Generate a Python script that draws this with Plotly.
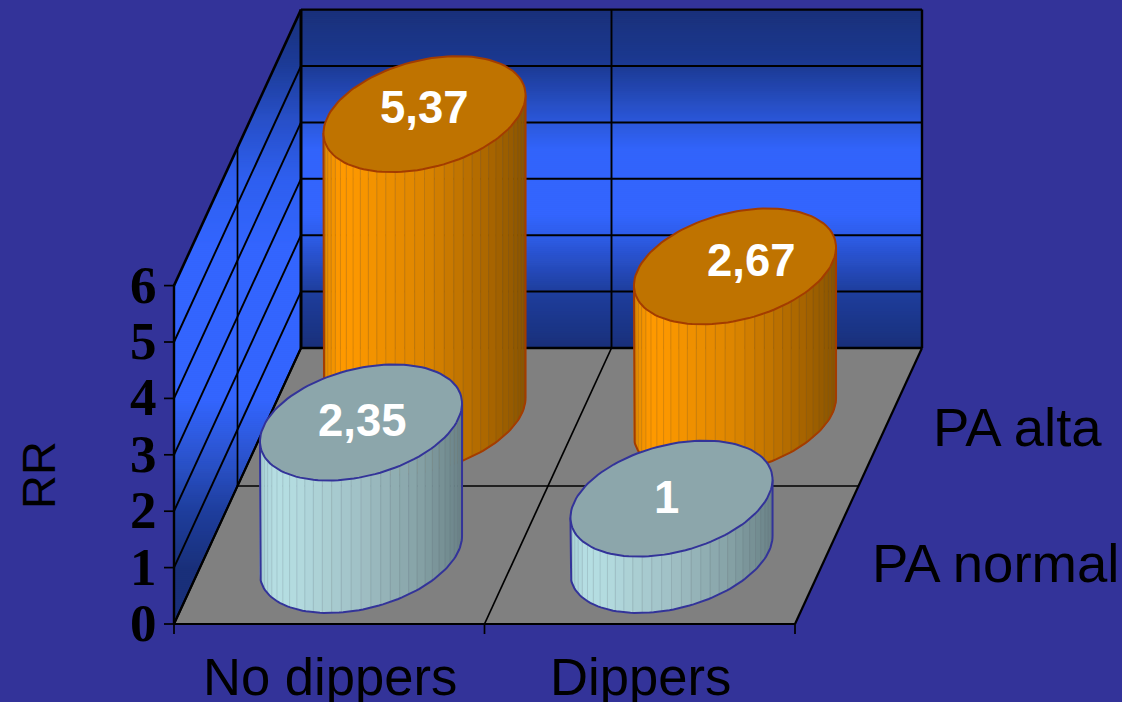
import numpy as np
import plotly.graph_objects as go

# Chart data
categories = ["No dippers", "Dippers"]
series_names = ["PA normal", "PA alta"]
pa_normal = [2.35, 1]
pa_alta = [5.37, 2.67]
value_ticks = [0, 1, 2, 3, 4, 5, 6]
axis_title = "RR"

# Oblique projection of the 3D box onto the page (pixels)
ORIGIN_X, ORIGIN_Y = 174.0, 624.0
WIDTH_X = 621.0
DEPTH_X, DEPTH_Y = 127.0, 276.0
UNIT_Y = 56.4
ZMAX = value_ticks[-1]


def project(u, v, z):
    """u: across categories 0..1, v: depth 0..1, z: value."""
    return (ORIGIN_X + WIDTH_X * u + DEPTH_X * v,
            ORIGIN_Y - DEPTH_Y * v - UNIT_Y * z)


# Cylinder footprint on the page
ELL_A, ELL_B, ELL_C = 95.5, 33.0, 58.0

BACKGROUND = "#333399"
FLOOR = "#808080"

# Vertical wall shading, as (page y, colour)
BACK_STOPS = [(10, "#19307a"), (65, "#1c3a92"), (122, "#2c58da"), (150, "#3265fb"),
              (215, "#3366ff"), (235, "#2f5eea"), (291, "#1f3f9e"), (348, "#19307a")]
SIDE_STOPS = [(10, "#19307a"), (66, "#1d3c98"), (120, "#2850c8"), (180, "#2f60f0"),
              (250, "#3366ff"), (400, "#3366ff"), (455, "#2c55d0"), (510, "#1f3f9e"),
              (570, "#19307a"), (624, "#19307a")]

ORANGE = dict(stops=[(0, "#e08a00"), (0.08, "#ff9900"), (0.16, "#fb9700"), (0.5, "#dc8500"),
                     (0.8, "#ad6800"), (1, "#8a5400")],
              top="#bf7300", edge="#a33c00", facet="rgba(110,80,30,0.28)")
TEAL = dict(stops=[(0, "#a8d0d6"), (0.08, "#b6dfe3"), (0.2, "#b2d9dd"), (0.5, "#a0c0c5"),
                   (0.8, "#84a0a4"), (1, "#6a8287")],
            top="#8ca6ab", edge="#333399", facet="rgba(90,110,120,0.22)")


def hex_rgb(c):
    return np.array([int(c[i:i + 2], 16) for i in (1, 3, 5)], float)


def ramp(stops, pos):
    xs = [s[0] for s in stops]
    cols = np.array([hex_rgb(s[1]) for s in stops])
    rgb = [np.interp(pos, xs, cols[:, k]) for k in range(3)]
    return "rgb(%d,%d,%d)" % tuple(int(round(c)) for c in rgb)


fig = go.Figure()


def poly(xs, ys, fill, line=None, width=0.0):
    fig.add_trace(go.Scatter(
        x=list(xs), y=list(ys), mode="lines", fill="toself", fillcolor=fill,
        line=dict(color=line or fill, width=width), hoverinfo="skip", showlegend=False))


def seg(p, q, width=1.5, color="black"):
    fig.add_trace(go.Scatter(
        x=[p[0], q[0]], y=[p[1], q[1]], mode="lines",
        line=dict(color=color, width=width), hoverinfo="skip", showlegend=False))


def shaded_wall(left, right, stops, top, bottom, step=2.0):
    """Fill a wall with horizontal strips; left/right give its x limits per page y."""
    ys = np.arange(top, bottom + step, step)
    for y0, y1 in zip(ys[:-1], ys[1:]):
        y1 = min(y1, bottom)
        poly([left(y0), right(y0), right(y1), left(y1), left(y0)],
             [y0, y0, y1, y1, y0], ramp(stops, (y0 + y1) / 2), width=0.8)


# Back wall
bl = project(0, 1, 0)
br = project(1, 1, 0)
tl = project(0, 1, ZMAX)
tr = project(1, 1, ZMAX)
shaded_wall(lambda y: bl[0], lambda y: br[0], BACK_STOPS, tl[1], bl[1])

# Side wall
f0 = project(0, 0, 0)
f6 = project(0, 0, ZMAX)
shaded_wall(lambda y: np.interp(y, [tl[1], f6[1]], [tl[0], f6[0]]),
            lambda y: np.interp(y, [bl[1], f0[1]], [bl[0], f0[0]]),
            SIDE_STOPS, tl[1], f0[1])

# Floor
fr = project(1, 0, 0)
poly([f0[0], fr[0], br[0], bl[0], f0[0]], [f0[1], fr[1], br[1], bl[1], f0[1]], FLOOR)

# Gridlines on the walls
for z in value_ticks:
    w = 2.4 if z in (value_ticks[0], value_ticks[-1]) else 2.0
    seg(project(0, 1, z), project(1, 1, z), w)
    seg(project(0, 0, z), project(0, 1, z), 2.6 if z == ZMAX else 1.9)
    seg(project(0, 0, z), (project(0, 0, z)[0] - 10, project(0, 0, z)[1]), 1.7)
seg(project(0.5, 1, 0), project(0.5, 1, ZMAX), 1.9)
seg(project(1, 1, 0), project(1, 1, ZMAX), 2.4)
seg(project(0, 1, 0), project(0, 1, ZMAX), 3.0)
seg(project(0, 0.5, 0), project(0, 0.5, ZMAX), 1.7)
seg(project(0, 0, 0), project(0, 0, ZMAX), 2.4)

# Gridlines on the floor and its outline
seg(project(0, 0.5, 0), project(1, 0.5, 0), 1.7)
seg(project(0.5, 0, 0), project(0.5, 1, 0), 1.7)
seg(project(0, 0, 0), project(1, 0, 0), 2.2)
seg(project(0, 0, 0), project(0, 1, 0), 2.2)
seg(project(1, 0, 0), project(1, 1, 0), 2.2)
for u in (0, 0.5, 1):
    p = project(u, 0, 0)
    seg(p, (p[0], p[1] + 10), 1.7)


def rim(cx, cy, t):
    return cx + ELL_A * np.cos(t) + ELL_B * np.sin(t), cy - ELL_C * np.sin(t)


def cylinder(u, v, value, style, facets=32):
    bx, by = project(u, v, 0)
    tx, ty = project(u, v, value)
    t0 = np.arctan2(ELL_B, ELL_A)
    edges = np.linspace(t0 - np.pi, t0, facets + 1)
    half = np.hypot(ELL_A, ELL_B)

    # Front of the barrel, one flat-shaded facet at a time
    for a0, a1 in zip(edges[:-1], edges[1:]):
        x0, y0t = rim(tx, ty, a0)
        x1, y1t = rim(tx, ty, a1)
        _, y0b = rim(bx, by, a0)
        _, y1b = rim(bx, by, a1)
        frac = ((x0 + x1) / 2 - (tx - half)) / (2 * half)
        poly([x0, x1, x1, x0, x0], [y0t, y1t, y1b, y0b, y0t], ramp(style["stops"], frac), width=0.6)
    for a in edges[1:-1]:
        x, yt = rim(tx, ty, a)
        _, yb = rim(bx, by, a)
        seg((x, yt), (x, yb), 0.8, style["facet"])

    # Silhouette of the barrel
    tb = np.linspace(t0 - np.pi, t0, 80)
    xb, yb = rim(bx, by, tb)
    xl, yl = rim(tx, ty, t0 - np.pi)
    xr, yr = rim(tx, ty, t0)
    fig.add_trace(go.Scatter(
        x=[xl] + list(xb) + [xr], y=[yl] + list(yb) + [yr], mode="lines",
        line=dict(color=style["edge"], width=2.0), hoverinfo="skip", showlegend=False))

    # Top cap
    ta = np.linspace(0, 2 * np.pi, 121)
    xc, yc = rim(tx, ty, ta)
    poly(xc, yc, style["top"], style["edge"], 2.0)


# Category and series slots on the floor
u_slots = [0.25, 0.75]
v_slots = [0.25, 0.75]

# Rear row first so the front row overlaps it
for i, val in enumerate(pa_alta):
    cylinder(u_slots[i], v_slots[1], val, ORANGE)
for i, val in enumerate(pa_normal):
    cylinder(u_slots[i], v_slots[0], val, TEAL)

annotations = []


def text(x, y, s, size, family="Liberation Sans", bold=False, color="black",
         anchor="center", angle=0):
    annotations.append(dict(
        x=x, y=y, xref="x", yref="y", text="<b>%s</b>" % s if bold else s, showarrow=False,
        xanchor=anchor, yanchor="middle", textangle=angle,
        font=dict(family=family, size=size, color=color)))


def fmt(v):
    return ("%g" % v).replace(".", ",")


# Value labels on the cylinder tops
label_shift = {(0, 1): (0, -7), (1, 1): (16, -6), (0, 0): (1, -2), (1, 0): (-5, -1)}
for s_idx, vals in enumerate([pa_normal, pa_alta]):
    for c_idx, val in enumerate(vals):
        x, y = project(u_slots[c_idx], v_slots[s_idx], val)
        dx, dy = label_shift[(c_idx, s_idx)]
        text(x + dx, y + dy, fmt(val), 45.5, bold=True, color="white")

# Value axis
for z in value_ticks:
    x, y = project(0, 0, z)
    text(x - 15, y - 1, str(z), 53, family="Liberation Serif", bold=True, anchor="right")
text(38, 475, axis_title, 47, angle=-90)

# Category and series names
cat_x = [330, 640]
for name, x in zip(categories, cat_x):
    text(x, 676, name, 52.6)
text(995, 563, series_names[0], 54.5)
text(1017, 427, series_names[1], 54.5)

fig.update_layout(
    width=1122, height=702, margin=dict(l=0, r=0, t=0, b=0),
    paper_bgcolor=BACKGROUND, plot_bgcolor=BACKGROUND, showlegend=False,
    annotations=annotations,
    xaxis=dict(range=[0, 1122], visible=False, fixedrange=True),
    yaxis=dict(range=[702, 0], visible=False, fixedrange=True),
)
fig.write_html("out.html", config=dict(displayModeBar=False))
